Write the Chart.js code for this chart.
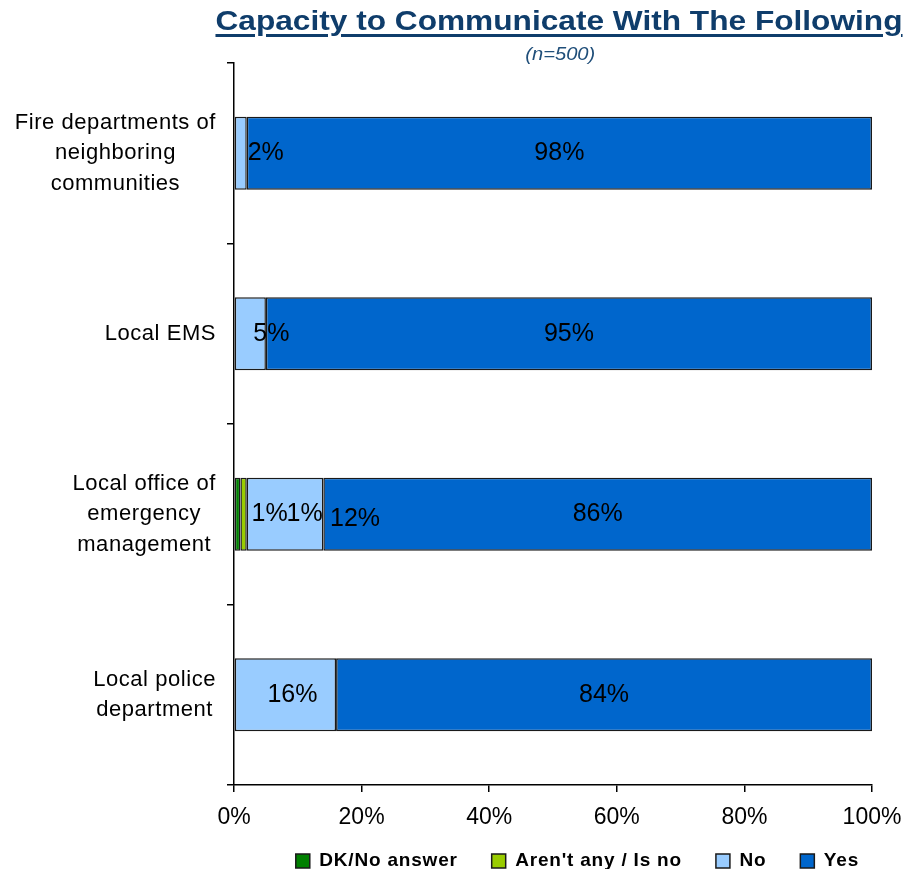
<!DOCTYPE html>
<html>
<head>
<meta charset="utf-8">
<script src="https://cdn.jsdelivr.net/npm/chart.js@4.4.0/dist/chart.umd.min.js"></script>
<style>
  html, body { margin: 0; padding: 0; background: #fff; }
  #caixa { position: relative; width: 907px; height: 869px; font-family: "Liberation Sans", Arial, sans-serif; }
  #grafico { position: absolute; left: 0; top: 0; }
  .centro { position: absolute; left: 209px; width: 700px; text-align: center; z-index: 2; }
  #titulo { top: 7px; }
  #titulo span {
    display: inline-block; font-size: 28px; line-height: 28px; font-weight: bold; color: #0f3d6b;
    text-decoration: underline; text-decoration-thickness: 3px; text-underline-offset: 4px;
    transform: scaleX(1.13);
  }
  #sub { top: 45px; left: 210px; }
  #sub span {
    display: inline-block; font-size: 18px; line-height: 18px; font-style: italic; color: #1f4e79;
    transform: scaleX(1.12);
  }
</style>
</head>
<body>
<div id="caixa">
  <div id="titulo" class="centro"><span>Capacity to Communicate With The Following</span></div>
  <div id="sub" class="centro"><span>(n=500)</span></div>
  <canvas id="grafico" width="907" height="869"></canvas>
</div>
<script>
const ctx = document.getElementById('grafico');

let categorias = [
  ["Fire departments of", "neighboring", "communities"],
  ["Local EMS"],
  ["Local office of", "emergency", "management"],
  ["Local police", "department"]
]
let dkNoAnswer = [null, null, 1, null]
let arentAny = [null, null, 1, null]
let respNo = [2, 5, 12, 16]
let respYes = [98, 95, 86, 84]
let xTicks = [0, 20, 40, 60, 80, 100]

// deslocamento (px) dos rótulos das fatias estreitas, para não ficarem encavalados
const ajusteRotulo = {
  "DK/No answer": [[0, 0], [0, 0], [32, 0], [0, 0]],
  "Aren't any / Is no": [[0, 0], [0, 0], [61, 0], [0, 0]],
  "No": [[25, 0], [21, 0], [70, 5], [7, 0]],
  "Yes": [[0, 0], [0, 0], [0, 0], [0, 0]]
}

const fonte = '"Liberation Sans", Arial, sans-serif'
Chart.defaults.font.family = fonte
Chart.defaults.color = '#000'

// valores dentro das barras
const rotulosBarras = {
  id: 'rotulosBarras',
  afterDatasetsDraw(chart) {
    const c = chart.ctx
    c.save()
    c.font = '25px ' + fonte
    c.fillStyle = '#000'
    c.textAlign = 'center'
    c.textBaseline = 'middle'
    chart.data.datasets.forEach((ds, i) => {
      chart.getDatasetMeta(i).data.forEach((bar, j) => {
        const v = ds.data[j]
        if (v == null) return
        const [dx, dy] = ajusteRotulo[ds.label][j]
        c.fillText(v + '%', (bar.x + bar.base) / 2 + dx, bar.y + dy)
      })
    })
    c.restore()
  }
}

// categorias do eixo y: bloco alinhado à direita, linhas centralizadas
const rotulosY = {
  id: 'rotulosY',
  afterDraw(chart) {
    const y = chart.scales.y
    const c = chart.ctx
    c.save()
    c.font = '22px ' + fonte
    c.letterSpacing = '0.55px'
    c.fillStyle = '#000'
    c.textAlign = 'center'
    c.textBaseline = 'middle'
    categorias.forEach((linhas, i) => {
      const meio = y.getPixelForValue(i)
      const larg = Math.max(...linhas.map(l => c.measureText(l).width))
      const xc = y.right - 18 - larg / 2
      linhas.forEach((l, k) => c.fillText(l, xc, meio + (k - (linhas.length - 1) / 2) * 30.5))
    })
    c.restore()
  }
}

// legenda com um pouco de espaçamento entre letras; e o eixo x sem cortar os rótulos
const ajustes = {
  id: 'ajustes',
  afterInit(chart) {
    const lg = chart.legend
    ;['fit', 'draw'].forEach(m => {
      const f = lg[m].bind(lg)
      lg[m] = (...a) => {
        chart.ctx.save()
        chart.ctx.letterSpacing = '0.8px'
        f(...a)
        chart.ctx.restore()
      }
    })
  },
  afterLayout(chart) {
    chart.scales.x.bottom = chart.height
    chart.legend.left += 21
    chart.legend.right += 21
  }
}

let grafico = new Chart(ctx, {
  type: 'bar',
  data: {
    labels: categorias,
    datasets: [
      { label: "DK/No answer", data: dkNoAnswer, backgroundColor: '#008000' },
      { label: "Aren't any / Is no", data: arentAny, backgroundColor: '#99cc00' },
      { label: "No", data: respNo, backgroundColor: '#99ccff' },
      { label: "Yes", data: respYes, backgroundColor: '#0066cc' }
    ].map(d => Object.assign(d, {
      borderColor: '#1a1a1a', borderWidth: 1.5, borderSkipped: false,
      barPercentage: 0.405, categoryPercentage: 1
    }))
  },
  options: {
    indexAxis: 'y',
    responsive: false,
    animation: false,
    layout: { padding: { top: 63, right: 35, left: 0, bottom: -11.5 } },
    scales: {
      x: {
        stacked: true,
        min: 0,
        max: 100,
        afterBuildTicks: s => { s.ticks = xTicks.map(v => ({ value: v })) },
        afterFit: s => { s.height = 32.5 },
        ticks: { font: { size: 23, lineHeight: 2 }, padding: 3, callback: v => v + '%' },
        grid: { drawOnChartArea: false, tickLength: 7, color: '#000', lineWidth: 1.5 },
        border: { color: '#000', width: 1.5 }
      },
      y: {
        stacked: true,
        afterFit: s => { s.width = 234 },
        ticks: { display: false },
        grid: { drawOnChartArea: false, tickLength: 7, color: '#000', lineWidth: 1.5 },
        border: { color: '#000', width: 1.5 }
      }
    },
    plugins: {
      title: { display: false },
      tooltip: { enabled: false },
      legend: {
        position: 'bottom',
        align: 'end',
        fullSize: false,
        labels: {
          font: { size: 19, weight: 'bold' },
          boxWidth: 14,
          boxHeight: 14,
          padding: 34,
          color: '#000'
        }
      }
    }
  },
  plugins: [rotulosBarras, rotulosY, ajustes]
})
</script>
</body>
</html>
